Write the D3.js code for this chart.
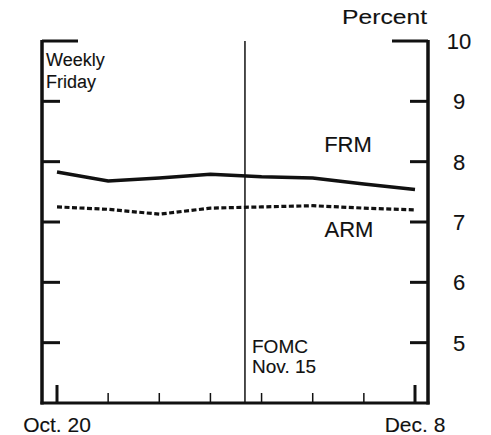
<!DOCTYPE html>
<html>
<head>
<meta charset="utf-8">
<script src="https://cdn.jsdelivr.net/npm/d3@7"></script>
<style>
  body { margin: 0; background: #fff; }
  svg { display: block; }
  text { font-family: "Liberation Sans", Arial, Helvetica, sans-serif; fill: #111; stroke: #111; stroke-width: 0.12; }
</style>
</head>
<body>
<svg id="chart" width="491" height="435"></svg>
<script>
// weekly (Friday) dates
var weeks = ["2000-10-20", "2000-10-27", "2000-11-03", "2000-11-10",
             "2000-11-17", "2000-11-24", "2000-12-01", "2000-12-08"];
// fixed-rate mortgage, percent
var frm = [7.83, 7.68, 7.73, 7.79, 7.75, 7.73, 7.63, 7.54];
// adjustable-rate mortgage, percent
var arm = [7.25, 7.21, 7.13, 7.23, 7.25, 7.27, 7.23, 7.20];
var yTicks = [5, 6, 7, 8, 9, 10];
var xLabels = ["Oct. 20", "Dec. 8"];
var fomcDate = "2000-11-15";

function drawChart() {
    var parse = d3.timeParse("%Y-%m-%d");
    var dates = weeks.map(parse);

    var svg = d3.select("svg#chart");
    var pLeft = 42, pRight = 428, pTop = 41, pBottom = 403;

    var x = d3.scaleTime()
        .domain([dates[0], dates[dates.length - 1]])
        .range([57, 415]);

    var y = d3.scaleLinear()
        .domain([4, 10])
        .range([pBottom, pTop]);

    var g = svg.append("g");

    // FOMC line
    var xf = x(parse(fomcDate)) - 2;
    g.append("line")
        .attr("x1", xf).attr("x2", xf)
        .attr("y1", pTop).attr("y2", pBottom)
        .attr("stroke", "#111").attr("stroke-width", 1.5);

    // frame: left, right, bottom
    g.append("line").attr("x1", pLeft).attr("x2", pLeft).attr("y1", pTop - 1).attr("y2", pBottom + 1.5)
        .attr("stroke", "#111").attr("stroke-width", 3.5);
    g.append("line").attr("x1", pRight).attr("x2", pRight).attr("y1", pTop - 1).attr("y2", pBottom + 1.5)
        .attr("stroke", "#111").attr("stroke-width", 3.5);
    g.append("line").attr("x1", pLeft - 1.5).attr("x2", pRight + 1.5).attr("y1", pBottom).attr("y2", pBottom)
        .attr("stroke", "#111").attr("stroke-width", 3);

    // y ticks, both sides, pointing in
    yTicks.forEach(function (t) {
        var len = t == 10 ? 36 : 18;
        g.append("line").attr("x1", pLeft).attr("x2", pLeft + len)
            .attr("y1", y(t)).attr("y2", y(t))
            .attr("stroke", "#111").attr("stroke-width", 3);
        g.append("line").attr("x1", pRight).attr("x2", pRight - len)
            .attr("y1", y(t)).attr("y2", y(t))
            .attr("stroke", "#111").attr("stroke-width", 3);
        g.append("text")
            .attr("x", 459).attr("y", y(t))
            .attr("dy", "0.36em")
            .attr("text-anchor", "middle")
            .attr("font-size", 22)
            .text(t);
    });

    // x ticks
    dates.forEach(function (d, i) {
        var end = i == 0 || i == dates.length - 1;
        g.append("line")
            .attr("x1", x(d)).attr("x2", x(d))
            .attr("y1", pBottom).attr("y2", pBottom - (end ? 18 : 10))
            .attr("stroke", "#111").attr("stroke-width", end ? 3 : 1.5);
    });

    g.append("text").attr("x", x(dates[0])).attr("y", 432)
        .attr("text-anchor", "middle").attr("font-size", 21).text(xLabels[0]);
    g.append("text").attr("x", x(dates[dates.length - 1])).attr("y", 432)
        .attr("text-anchor", "middle").attr("font-size", 21).text(xLabels[1]);

    // series
    var line = d3.line()
        .x(function (d, i) { return x(dates[i]); })
        .y(function (d) { return y(d); });

    g.append("path").datum(frm)
        .attr("d", line)
        .attr("fill", "none").attr("stroke", "#111").attr("stroke-width", 3.5);

    g.append("path").datum(arm)
        .attr("d", line)
        .attr("fill", "none").attr("stroke", "#111").attr("stroke-width", 3.2)
        .attr("stroke-dasharray", "5,2.5");

    // labels
    g.append("text").attr("x", 427).attr("y", 24).attr("text-anchor", "end")
        .attr("font-size", 21).attr("textLength", 85).attr("lengthAdjust", "spacingAndGlyphs")
        .text("Percent");
    g.append("text").attr("x", 46).attr("y", 66).attr("font-size", 18).text("Weekly");
    g.append("text").attr("x", 46).attr("y", 88).attr("font-size", 18).text("Friday");
    g.append("text").attr("x", 348).attr("y", 152).attr("text-anchor", "middle")
        .attr("font-size", 22).text("FRM");
    g.append("text").attr("x", 349).attr("y", 237).attr("text-anchor", "middle")
        .attr("font-size", 22).text("ARM");
    g.append("text").attr("x", 252).attr("y", 353).attr("font-size", 19).text("FOMC");
    g.append("text").attr("x", 252).attr("y", 373).attr("font-size", 19).text("Nov. 15");
}

drawChart();
</script>
</body>
</html>
